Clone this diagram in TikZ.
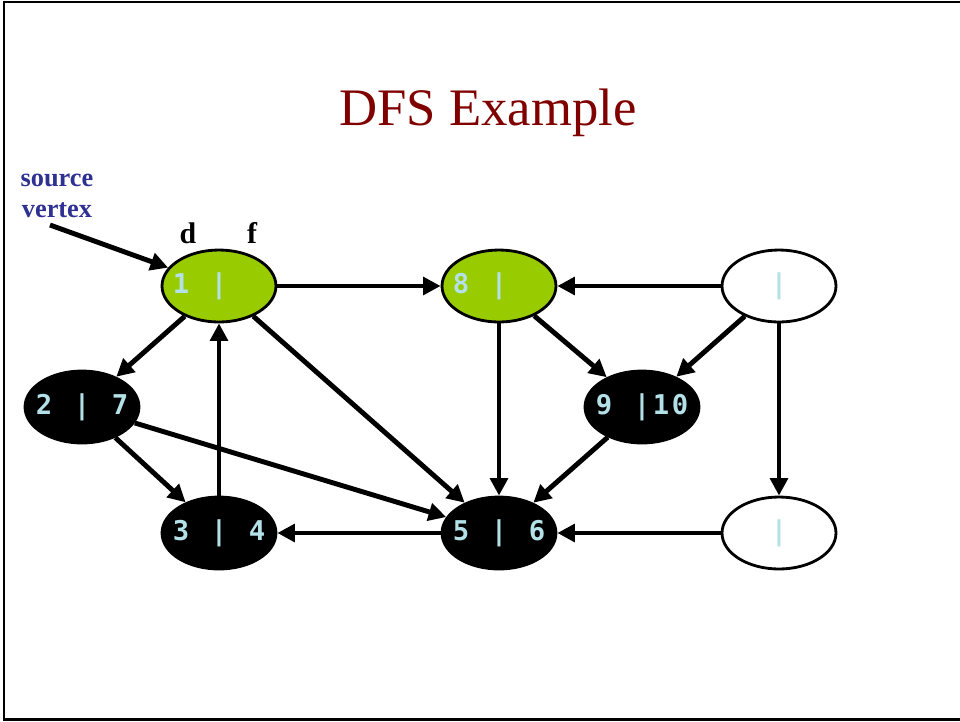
\documentclass[tikz,border=0pt]{standalone}
\usepackage{fontspec}
\setmainfont{Liberation Serif}
\newfontfamily\vtext{DejaVu Sans Mono}
\usetikzlibrary{shapes.geometric, arrows.meta, positioning}
\definecolor{visited}{RGB}{153,204,0}
\definecolor{stamp}{RGB}{180,225,232}
\definecolor{titlered}{RGB}{128,0,0}
\definecolor{srcblue}{RGB}{46,49,146}

% one character slot of a d|f label
\newcommand{\slot}[1]{\makebox[0.38cm]{#1}}
\newcommand{\vlab}[5]{\makebox[0pt]{\slot{#1}\slot{#2}\slot{#3}\slot{#4}\slot{#5}}}

\tikzset{
  vertex/.style={ellipse, draw=black, line width=1.6pt, minimum width=2.28cm, minimum height=1.44cm,
    inner sep=0pt, text=stamp, font=\vtext\bfseries\fontsize{15.5}{17}\selectfont},
  grey/.style={vertex, fill=visited},
  done/.style={vertex, fill=black},
  fresh/.style={vertex, fill=white},
  edge/.style={->, line width=2.8pt},
  >={Triangle[length=10pt,width=10pt]}
}

\begin{document}
\begin{tikzpicture}[x=0.02cm, y=-0.02cm]
  \useasboundingbox (0,0) rectangle (960,721);
  % slide frame
  \draw[line width=1.7pt] (965,2) -- (4,2) -- (4,719) -- (965,719);

  % title
  \node[text=titlered, font=\fontsize{30}{34}\selectfont, anchor=base] (title) at (488,125) {DFS Example};

  % vertices
  \node[grey]  (v1) at (219,286) {\vlab{1}{}{|}{}{}};
  \node[grey]  (v8) at (499,286) {\vlab{8}{}{|}{}{}};
  \node[fresh] (vtr) at (779,286) {\vlab{}{}{|}{}{}};
  \node[done]  (v2) at (82,407) {\vlab{2}{}{|}{}{7}};
  \node[done]  (v9) at (642,407) {\vlab{9}{}{|}{1}{0}};
  \node[done]  (v3) at (219,533) {\vlab{3}{}{|}{}{4}};
  \node[done]  (v5) at (499,533) {\vlab{5}{}{|}{}{6}};
  \node[fresh] (vbr) at (779,533) {\vlab{}{}{|}{}{}};

  % d / f markers and source label
  \node[font=\bfseries\fontsize{17}{19}\selectfont, anchor=base] (dmark) at (188,243) {d};
  \node[font=\bfseries\fontsize{17}{19}\selectfont, anchor=base] (fmark) at (252,243) {f};
  \node[text=srcblue, font=\bfseries\fontsize{15}{18}\selectfont, align=center] (src) at (57,196) {source\\vertex};
  \coordinate (srctail) at (50,225);

  % edges
  \draw[edge] (srctail) -- (v1);
  \draw[edge] (v1) -- (v8);
  \draw[edge] (vtr) -- (v8);
  \draw[edge] (v1) -- (v2);
  \draw[edge] (v1) -- (v5);
  \draw[edge] (v3) -- (v1);
  \draw[edge] (v2) -- (v3);
  \draw[edge] (v2) -- (v5);
  \draw[edge] (v5) -- (v3);
  \draw[edge] (v8) -- (v5);
  \draw[edge] (v8) -- (v9);
  \draw[edge] (vtr) -- (v9);
  \draw[edge] (vtr) -- (vbr);
  \draw[edge] (v9) -- (v5);
  \draw[edge] (vbr) -- (v5);
\end{tikzpicture}
\end{document}
